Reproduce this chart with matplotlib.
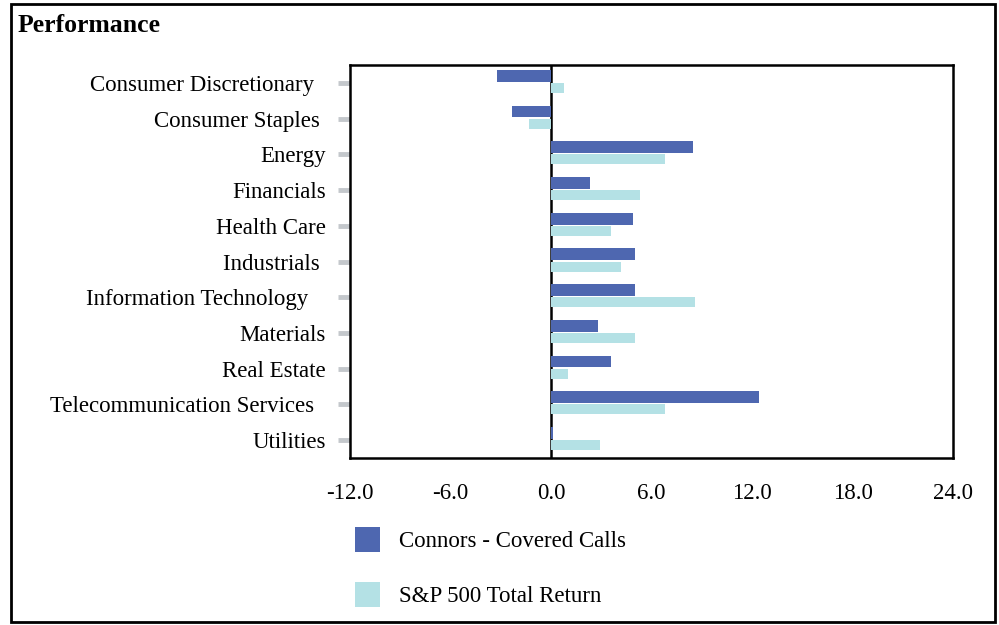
import matplotlib
matplotlib.use("Agg")
import matplotlib.pyplot as plt
from matplotlib.patches import Patch, Rectangle
import numpy as np

categories = ["Consumer Discretionary  ", "Consumer Staples ", "Energy", "Financials",
              "Health Care", "Industrials ", "Information Technology   ", "Materials",
              "Real Estate", "Telecommunication Services  ", "Utilities"]
connors = [-3.2, -2.3, 8.5, 2.3, 4.9, 5.0, 5.0, 2.8, 3.6, 12.4, 0.1]
sp500 = [0.8, -1.3, 6.8, 5.3, 3.6, 4.2, 8.6, 5.0, 1.0, 6.8, 2.9]
series_names = ["Connors - Covered Calls", "S&P 500 Total Return"]
xticks = [-12, -6, 0, 6, 12, 18, 24]
title = "Performance"

C1 = "#4E67B0"
C2 = "#B4E1E5"
plt.rcParams['font.family'] = ['Liberation Serif', 'DejaVu Serif']
FS = 16.5

fig = plt.figure(figsize=(9.99, 6.25), dpi=100)
ax = fig.add_axes([350/999, (625-458)/625, (953-350)/999, (458-65)/625])

y = np.arange(len(categories))
ax.axvline(0, color="black", lw=1.8, zorder=1)
ax.barh(y - 0.2, connors, height=0.33, color=C1, zorder=2)
ax.barh(y + 0.14, sp500, height=0.28, color=C2, zorder=2)

ax.set_ylim(len(categories) - 0.5, -0.5)
ax.set_xlim(-12, 24)
ax.set_yticks(y)
ax.set_yticklabels(categories, fontsize=FS)
ax.set_xticks(xticks)
ax.set_xticklabels([f"{v:.1f}" for v in xticks], fontsize=FS)
ax.set_xticks([-6, 0, 6, 12, 18], minor=True)
ax.tick_params(axis='x', which='major', length=0, pad=18)
ax.tick_params(axis='x', which='minor', length=8, width=3, color="#C4C8CC", direction='out')
ax.tick_params(axis='y', length=8.6, width=3.5, color="#C4C8CC", pad=9)
for s in ax.spines.values():
    s.set_linewidth(1.8)
    s.set_color("black")

fig.text(18/999, 1 - 25/625, title, fontsize=18.5, fontweight='bold', va='center', ha='left')

handles = [Patch(facecolor=C1, edgecolor='none'), Patch(facecolor=C2, edgecolor='none')]
fig.legend(handles, series_names, loc='upper left', bbox_to_anchor=(355/999, 1 - 527/625),
           frameon=False, fontsize=FS, handlelength=1.09, handleheight=1.28,
           labelspacing=1.3, handletextpad=0.85, borderpad=0, borderaxespad=0)

fig.patches.append(Rectangle((11/999, 3/625), (995-11)/999, (621-3)/625, transform=fig.transFigure,
                             fill=False, edgecolor='black', linewidth=2))

fig.savefig("out.png", dpi=100)
